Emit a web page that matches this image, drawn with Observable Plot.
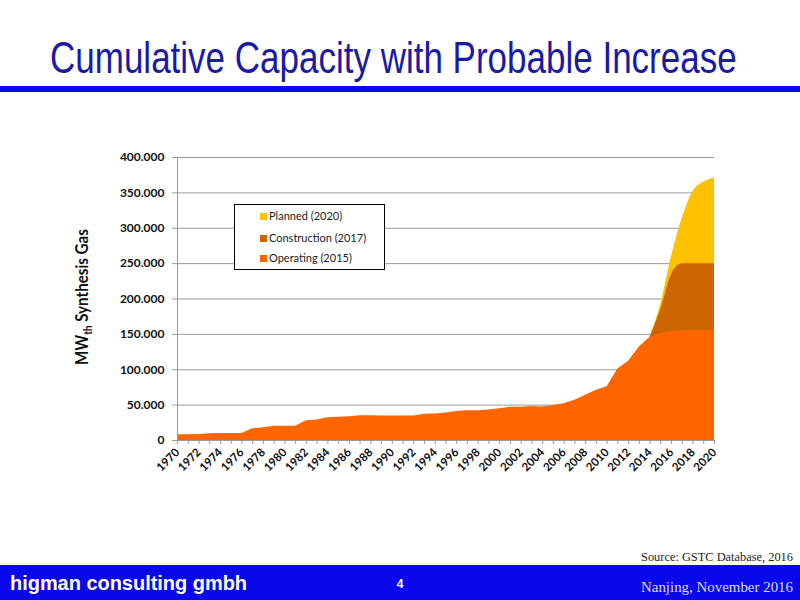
<!DOCTYPE html>
<html>
<head>
<meta charset="utf-8">
<script src="https://cdn.jsdelivr.net/npm/d3@7"></script>
<script src="https://cdn.jsdelivr.net/npm/@observablehq/plot@0.6"></script>
<style>
  html, body { margin: 0; padding: 0; background: #fff; }
  #page { position: relative; width: 800px; height: 600px; overflow: hidden; background: #fff; }
  #chrome { position: absolute; left: 0; top: 0; }
  #chart { position: absolute; left: 0; top: 140px; }
  #legend { position: absolute; left: 234px; top: 204px; width: 149px; height: 64px; border: 1px solid #000; background: #fff;
            font-family: Lato, "Open Sans", sans-serif; font-size: 11px; color: #222; }
  .li { position: absolute; left: 25px; height: 14px; line-height: 14px; white-space: nowrap; }
  .sw { display: inline-block; width: 7px; height: 7px; margin-right: 2px; vertical-align: 0px; }
</style>
</head>
<body>
<div id="page">
  <svg id="chrome" width="800" height="600"></svg>
  <div id="chart"></div>
  <div id="legend"></div>
</div>
<script>
// ---------------- data ----------------
const years = d3.range(1970, 2021);
const operating = [
  8000, 8000, 8500, 9500, 10000, 10000, 10000, 16500, 18000, 20000,
  20000, 20000, 28000, 29000, 32000, 33000, 33500, 35000, 35000, 34500,
  34500, 34500, 34500, 37000, 37500, 39000, 41000, 42000, 42000, 43000,
  45000, 47000, 47000, 48000, 47500, 49500, 52000, 57000, 64000, 71000,
  76000, 101000, 112000, 132000, 146000, 151000, 154000, 155000, 155000, 155000,
  155000
];
const outlookYears = [2014, 2015, 2016, 2017, 2018, 2019, 2020];
const construction = [146000, 185000, 235000, 250000, 250000, 250000, 250000];   // cumulative incl. operating
const planned = [146000, 193000, 260000, 314000, 352000, 365000, 371000];        // cumulative incl. construction
const seriesNames = ["Planned (2020)", "Construction (2017)", "Operating (2015)"];
const seriesColors = ["#FFC000", "#CC6600", "#FF6600"];
const yTicks = [0, 50000, 100000, 150000, 200000, 250000, 300000, 350000, 400000];
const labelYears = d3.range(1970, 2021, 2);
const titleText = "Cumulative Capacity with Probable Increase";
const yTitle = ["MW", "th", " Synthesis Gas"];
const sourceText = "Source: GSTC Database, 2016";
const footerLeft = "higman consulting gmbh";
const footerPage = "4";
const footerRight = "Nanjing, November 2016";

// ---------------- tables ----------------
const opData = years.map((y, i) => ({year: y, value: operating[i]}));
const conData = outlookYears.map((y, i) => ({year: y, value: construction[i]}));
const plaData = outlookYears.map((y, i) => ({year: y, value: planned[i]}));

const deFmt = d3.formatLocale({decimal: ",", thousands: ".", grouping: [3], currency: ["", ""]}).format(",d");

// ---------------- chart ----------------
const chart = Plot.plot({
  width: 730,
  height: 345,
  marginLeft: 177,
  marginRight: 16,
  marginTop: 17,
  marginBottom: 45,
  x: {domain: [1970, 2020]},
  y: {domain: [0, 400000]},
  style: {fontFamily: "Lato, 'Open Sans', sans-serif", fontSize: "12px", fontWeight: "bold", color: "#111", background: "transparent", overflow: "visible"},
  marks: [
    Plot.gridY(yTicks, {stroke: "#9a9a9a", strokeOpacity: 1}),
    Plot.areaY(plaData, {x: "year", y: "value", fill: seriesColors[0], curve: "monotone-x"}),
    Plot.areaY(conData, {x: "year", y: "value", fill: seriesColors[1], curve: "monotone-x"}),
    Plot.areaY(opData, {x: "year", y: "value", fill: seriesColors[2], curve: "linear"}),
    Plot.ruleX([1970], {stroke: "#9a9a9a"}),
    Plot.ruleY([0], {stroke: "#9a9a9a"}),
    Plot.axisY(yTicks, {tickSize: 5, tickPadding: 8, tickFormat: deFmt, stroke: "#9a9a9a", label: null, fontSize: 12, fontWeight: "bold", fill: "#111"}),
    Plot.axisX(years, {tickSize: 4, tickFormat: () => "", stroke: "#9a9a9a", label: null}),
    Plot.axisX(labelYears, {tickSize: 0, tickRotate: -45, tickPadding: 10, tickFormat: d => String(d), label: null, fontSize: 11.5, fontWeight: "bold", fill: "#111"})
  ]
});
document.getElementById("chart").appendChild(chart);

// ---------------- legend ----------------
const legend = document.getElementById("legend");
const rowTops = [4, 26, 46];
seriesNames.forEach((name, i) => {
  const row = document.createElement("div");
  row.className = "li";
  row.style.top = rowTops[i] + "px";
  const sw = document.createElement("span");
  sw.className = "sw";
  sw.style.background = seriesColors[i];
  row.appendChild(sw);
  row.appendChild(document.createTextNode(name));
  legend.appendChild(row);
});

// ---------------- slide chrome ----------------
const svg = d3.select("#chrome");
const title = svg.append("text")
  .attr("font-family", "'Liberation Sans Narrow', 'Liberation Sans', Arial, sans-serif")
  .attr("font-size", 45).attr("fill", "#1a1aa6")
  .text(titleText);
const tLen = title.node().getComputedTextLength();
title.attr("transform", `translate(50,73) scale(${687 / tLen},1)`);

svg.append("rect").attr("x", 0).attr("y", 86).attr("width", 800).attr("height", 6).attr("fill", "#0a0ae6");

const yt = svg.append("text")
  .attr("text-anchor", "middle")
  .attr("font-family", "Lato, 'Open Sans', sans-serif")
  .attr("font-weight", "bold").attr("font-size", 17).attr("fill", "#111");
yt.append("tspan").text(yTitle[0]);
yt.append("tspan").attr("font-size", 11).attr("dy", 4).text(yTitle[1]);
yt.append("tspan").attr("dy", -4).text(yTitle[2]);
const yLen = yt.node().getComputedTextLength();
yt.attr("transform", `translate(88,297) rotate(-90) scale(${136 / yLen},1)`);

svg.append("text").attr("x", 793).attr("y", 561).attr("text-anchor", "end")
  .attr("font-family", "'Liberation Serif', 'Times New Roman', serif")
  .attr("font-size", 12.5).attr("fill", "#222")
  .attr("textLength", 152).attr("lengthAdjust", "spacingAndGlyphs")
  .text(sourceText);

svg.append("rect").attr("x", 0).attr("y", 565).attr("width", 800).attr("height", 35).attr("fill", "#0808ea");
svg.append("text").attr("x", 10).attr("y", 590)
  .attr("font-family", "'Liberation Sans', Arial, sans-serif")
  .attr("font-weight", "bold").attr("font-size", 20).attr("fill", "#fff")
  .attr("textLength", 237).attr("lengthAdjust", "spacingAndGlyphs")
  .text(footerLeft);
svg.append("text").attr("x", 400).attr("y", 588).attr("text-anchor", "middle")
  .attr("font-family", "'Liberation Sans', Arial, sans-serif")
  .attr("font-weight", "bold").attr("font-size", 12).attr("fill", "#fff")
  .text(footerPage);
svg.append("text").attr("x", 793).attr("y", 592).attr("text-anchor", "end")
  .attr("font-family", "'Liberation Serif', 'Times New Roman', serif")
  .attr("font-size", 15).attr("fill", "#dcdcf4")
  .attr("textLength", 152).attr("lengthAdjust", "spacingAndGlyphs")
  .text(footerRight);
</script>
</body>
</html>
